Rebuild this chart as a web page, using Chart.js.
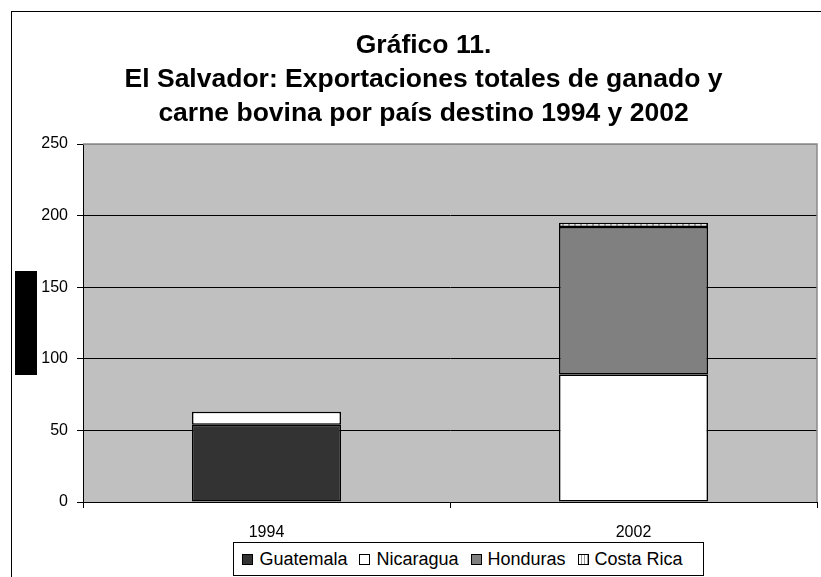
<!DOCTYPE html>
<html lang="es">
<head>
    <meta charset="UTF-8">
    <title>Gráfico 11</title>
    <script src="https://cdn.jsdelivr.net/npm/chart.js"></script>
    <style>
        body {
            margin: 0;
            background: #fff;
            font-family: "Liberation Sans", Arial, sans-serif;
        }
        #wrap {
            position: relative;
            width: 821px;
            height: 577px;
            overflow: hidden;
        }
        #frame {
            position: absolute;
            left: 11px;
            top: 11px;
            width: 900px;
            height: 700px;
            border-left: 1px solid #000;
            border-top: 1px solid #000;
        }
        #blackbox {
            position: absolute;
            left: 15px;
            top: 271px;
            width: 22px;
            height: 104px;
            background: #000;
        }
        #chart {
            position: absolute;
            left: 0;
            top: 0;
        }
        #legend {
            position: absolute;
            left: 233px;
            top: 542px;
            width: 469px;
            height: 32px;
            border: 1px solid #000;
            background: #fff;
            display: flex;
            align-items: center;
            justify-content: center;
            padding-right: 12px;
            box-sizing: content-box;
            width: 457px;
            font-size: 18px;
            color: #000;
        }
        .item {
            display: flex;
            align-items: center;
            margin: 0 6px;
        }
        .swatch {
            width: 9px;
            height: 9px;
            border: 1px solid #000;
            margin-right: 6px;
        }
    </style>
</head>
<body>
<div id="wrap">
    <div id="frame"></div>
    <canvas id="chart" width="821" height="577"></canvas>
    <div id="blackbox"></div>
    <div id="legend"></div>
</div>

<script>
    // data
    const years = ['1994', '2002'];
    const countries = ['Guatemala', 'Nicaragua', 'Honduras', 'Costa Rica'];
    const guatemala = [54, 0];
    const nicaragua = [9, 89];
    const honduras = [0, 103];
    const costaRica = [0, 3];
    const yTicks = [0, 50, 100, 150, 200, 250];

    const titleLines = [
        'Gráfico 11.',
        'El Salvador: Exportaciones totales de ganado y',
        'carne bovina por país destino 1994 y 2002'
    ];

    // light striped fill for Costa Rica
    function stripePattern() {
        const c = document.createElement('canvas');
        c.width = 6;
        c.height = 6;
        const g = c.getContext('2d');
        g.fillStyle = '#ffffff';
        g.fillRect(0, 0, 6, 6);
        g.fillStyle = '#9a9a9a';
        g.fillRect(4, 0, 2, 6);
        return g.createPattern(c, 'repeat');
    }

    const fills = ['#333333', '#ffffff', '#808080', stripePattern()];
    const swatchCss = ['#333333', '#ffffff', '#808080',
        'repeating-linear-gradient(90deg, #fff 0 2px, #9a9a9a 2px 3px)'];

    const seriesValues = [guatemala, nicaragua, honduras, costaRica];

    const datasets = countries.map((name, i) => ({
        label: name,
        data: seriesValues[i],
        backgroundColor: fills[i],
        borderColor: '#000',
        borderWidth: 1.5,
        borderSkipped: false,
        categoryPercentage: 1,
        barPercentage: 0.406
    }));

    // grey plot background + grey top/right edge
    const plotArea = {
        id: 'plotArea',
        beforeDraw(chart) {
            const a = chart.chartArea;
            const ctx = chart.ctx;
            ctx.save();
            ctx.fillStyle = '#c0c0c0';
            ctx.fillRect(a.left, a.top, a.right - a.left, a.bottom - a.top);
            ctx.restore();
        },
        afterDraw(chart) {
            const a = chart.chartArea;
            const ctx = chart.ctx;
            ctx.save();
            ctx.strokeStyle = '#8a8a8a';
            ctx.lineWidth = 1.5;
            ctx.beginPath();
            ctx.moveTo(a.left, a.top);
            ctx.lineTo(a.right, a.top);
            ctx.lineTo(a.right, a.bottom);
            ctx.stroke();
            ctx.restore();
        }
    };

    const tickFont = { family: '"Liberation Sans", Arial, sans-serif', size: 16 };

    const ctx = document.getElementById('chart').getContext('2d');
    const chart = new Chart(ctx, {
        type: 'bar',
        data: {
            labels: years,
            datasets: datasets
        },
        options: {
            responsive: false,
            animation: false,
            layout: {
                padding: { left: 30, right: 4, top: 29, bottom: 35 }
            },
            plugins: {
                legend: { display: false },
                tooltip: { enabled: false },
                title: {
                    display: true,
                    text: titleLines,
                    color: '#000',
                    font: { family: '"Liberation Sans", Arial, sans-serif', size: 26.5, weight: 'bold', lineHeight: 34 / 26.5 },
                    padding: { top: 0, bottom: 13 }
                }
            },
            scales: {
                x: {
                    stacked: true,
                    afterFit: s => { s.height = 40; },
                    grid: {
                        offset: true,
                        drawOnChartArea: false,
                        color: '#000',
                        tickLength: 6
                    },
                    border: { color: '#000', width: 1 },
                    ticks: {
                        color: '#000',
                        padding: 15,
                        font: tickFont
                    }
                },
                y: {
                    stacked: true,
                    min: 0,
                    max: 250,
                    afterFit: s => { s.width = 53; },
                    afterBuildTicks: s => { s.ticks = yTicks.map(v => ({ value: v })); },
                    grid: {
                        color: c => c.tick && c.tick.value === 250 ? '#8a8a8a' : '#000',
                        tickColor: '#000',
                        tickLength: 6
                    },
                    border: { color: '#000', width: 1 },
                    ticks: {
                        color: '#000',
                        padding: 9,
                        font: tickFont
                    }
                }
            }
        },
        plugins: [plotArea]
    });

    // legend box under the chart
    const legend = document.getElementById('legend');
    countries.forEach((name, i) => {
        const item = document.createElement('span');
        item.className = 'item';
        const sw = document.createElement('span');
        sw.className = 'swatch';
        sw.style.background = swatchCss[i];
        item.appendChild(sw);
        item.appendChild(document.createTextNode(name));
        legend.appendChild(item);
    });
</script>
</body>
</html>
